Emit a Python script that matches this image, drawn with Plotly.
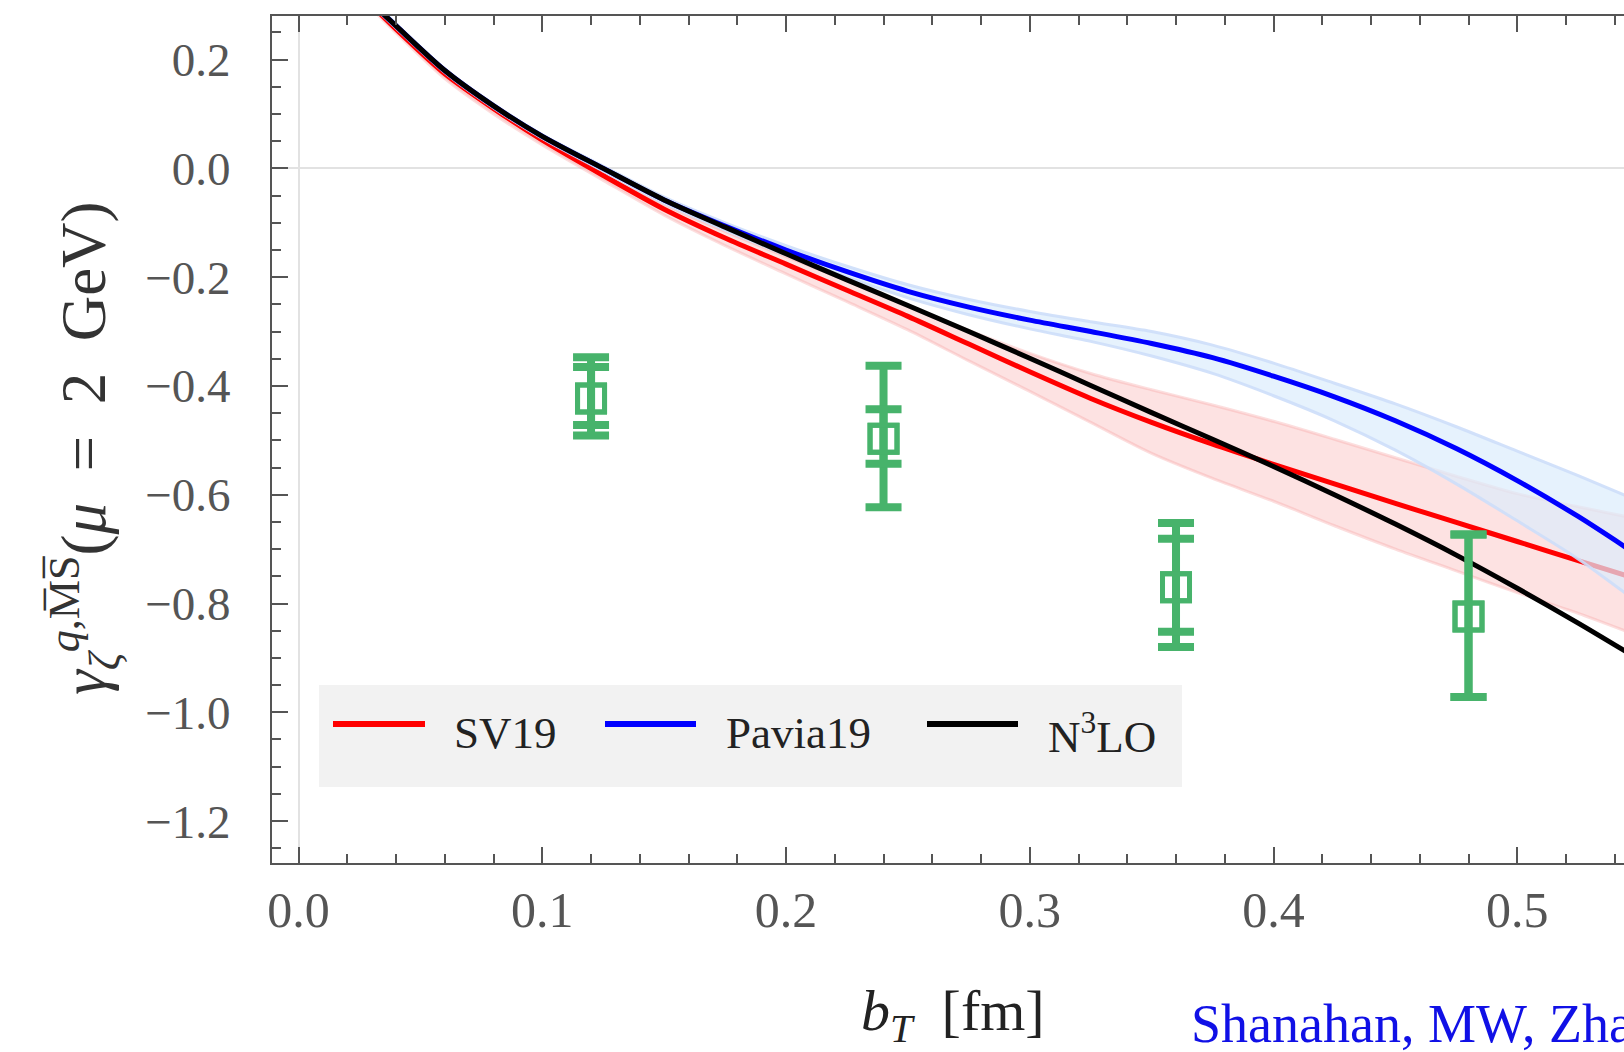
import plotly.graph_objects as go

# ---------------- data ----------------
b_fm = [0.03, 0.04, 0.06, 0.08, 0.10, 0.125, 0.15, 0.175, 0.20, 0.225, 0.25, 0.275,
        0.30, 0.325, 0.35, 0.375, 0.40, 0.425, 0.45, 0.475, 0.50, 0.525, 0.55]

sv19 = [0.300, 0.256, 0.174, 0.110, 0.052, -0.013, -0.075, -0.128, -0.176, -0.224, -0.272, -0.323,
        -0.374, -0.423, -0.467, -0.507, -0.544, -0.580, -0.616, -0.651, -0.686, -0.721, -0.756]
sv19_hi = [0.304, 0.259, 0.177, 0.114, 0.057, -0.006, -0.066, -0.116, -0.162, -0.206, -0.252, -0.298,
           -0.340, -0.377, -0.407, -0.435, -0.465, -0.498, -0.532, -0.566, -0.598, -0.622, -0.645]
sv19_lo = [0.294, 0.249, 0.165, 0.100, 0.043, -0.022, -0.086, -0.142, -0.194, -0.245, -0.297, -0.354,
           -0.410, -0.467, -0.524, -0.570, -0.612, -0.657, -0.700, -0.740, -0.780, -0.818, -0.860]

pavia19 = [0.304, 0.262, 0.180, 0.115, 0.059, 0.000, -0.058, -0.106, -0.150, -0.190, -0.226, -0.255,
           -0.279, -0.300, -0.322, -0.348, -0.382, -0.420, -0.464, -0.515, -0.574, -0.640, -0.713]
pavia19_hi = [0.310, 0.266, 0.183, 0.118, 0.062, 0.004, -0.053, -0.100, -0.142, -0.180, -0.214, -0.241,
              -0.263, -0.282, -0.300, -0.325, -0.358, -0.395, -0.433, -0.475, -0.520, -0.565, -0.612]
pavia19_lo = [0.300, 0.258, 0.176, 0.111, 0.055, -0.005, -0.064, -0.113, -0.159, -0.200, -0.238, -0.269,
              -0.295, -0.318, -0.345, -0.377, -0.418, -0.464, -0.518, -0.580, -0.648, -0.718, -0.800]

n3lo = [0.304, 0.262, 0.180, 0.115, 0.059, 0.000, -0.058, -0.108, -0.157, -0.205, -0.252, -0.300,
        -0.349, -0.399, -0.449, -0.498, -0.548, -0.600, -0.654, -0.711, -0.772, -0.836, -0.903]

lat_b = [0.12, 0.24, 0.36, 0.48]
lat_val = [-0.423, -0.497, -0.770, -0.824]
lat_tot_plus = [0.076, 0.134, 0.118, 0.151]
lat_tot_minus = [0.068, 0.126, 0.110, 0.148]
lat_stat_plus = [0.058, 0.054, 0.089, 0.151]
lat_stat_minus = [0.049, 0.046, 0.082, 0.148]

series_names = ["SV19", "Pavia19", "N<sup>3</sup>LO"]
series_colors = ["#ff0000", "#0000ff", "#000000"]

x_ticks = [0.0, 0.1, 0.2, 0.3, 0.4, 0.5]
y_ticks = [0.2, 0.0, -0.2, -0.4, -0.6, -0.8, -1.0, -1.2]

# ---------------- figure ----------------
SERIF = "Liberation Serif"
GREEN = "#47b36b"
SPL = dict(shape="spline", smoothing=0.8)
fig = go.Figure()

# SV19 band + line
fig.add_trace(go.Scatter(x=b_fm, y=sv19_lo, mode="lines", line=dict(color="rgba(245,160,160,0.35)", width=3, **SPL),
                         hoverinfo="skip", showlegend=False))
fig.add_trace(go.Scatter(x=b_fm, y=sv19_hi, mode="lines", fill="tonexty", fillcolor="rgba(250,180,180,0.38)",
                         line=dict(color="rgba(245,160,160,0.35)", width=3, **SPL),
                         hoverinfo="skip", showlegend=False))
fig.add_trace(go.Scatter(x=b_fm, y=sv19, mode="lines", name="SV19",
                         line=dict(color=series_colors[0], width=5, **SPL), showlegend=False))

# Pavia19 band + line
fig.add_trace(go.Scatter(x=b_fm, y=pavia19_lo, mode="lines", line=dict(color="rgba(205,222,250,0.9)", width=3, **SPL),
                         hoverinfo="skip", showlegend=False))
fig.add_trace(go.Scatter(x=b_fm, y=pavia19_hi, mode="lines", fill="tonexty", fillcolor="rgba(220,236,252,0.7)",
                         line=dict(color="rgba(205,222,250,0.9)", width=3, **SPL),
                         hoverinfo="skip", showlegend=False))
fig.add_trace(go.Scatter(x=b_fm, y=pavia19, mode="lines", name="Pavia19",
                         line=dict(color=series_colors[1], width=5, **SPL), showlegend=False))

# N3LO
fig.add_trace(go.Scatter(x=b_fm, y=n3lo, mode="lines", name="N3LO",
                         line=dict(color=series_colors[2], width=5, **SPL), showlegend=False))

# Lattice data: total and statistical error bars
for plus, minus in [(lat_tot_plus, lat_tot_minus), (lat_stat_plus, lat_stat_minus)]:
    fig.add_trace(go.Scatter(x=lat_b, y=lat_val, mode="markers",
                             marker=dict(symbol="square-open", size=27, color=GREEN, line=dict(width=5, color=GREEN)),
                             error_y=dict(type="data", symmetric=False, array=plus, arrayminus=minus,
                                          color=GREEN, thickness=8, width=18),
                             showlegend=False))

# ---------------- layout ----------------
L, T, W, H = 272, 16, 1624, 1052
B = 189
pw, ph = W - L, H - T - B


def px2paper(px, py):
    return (px - L) / pw, (H - B - py) / ph


axis_common = dict(showline=True, linecolor="#555555", linewidth=2, ticks="inside", tickcolor="#555555",
                   tickwidth=2, ticklen=16, showgrid=False, zeroline=True, zerolinecolor="#e2e2e2",
                   zerolinewidth=2, tickformat=".1f")

fig.update_layout(
    width=W, height=H, autosize=False,
    margin=dict(l=L, r=0, t=T, b=B, pad=0),
    paper_bgcolor="white", plot_bgcolor="white",
    xaxis=dict(range=[-0.0109, 0.5438], tickmode="array", tickvals=x_ticks, mirror="ticks",
               minor=dict(dtick=0.02, tick0=0, ticks="inside", ticklen=9, tickwidth=2, tickcolor="#555555"),
               tickfont=dict(family=SERIF, size=50, color="#555555"),
               ticklabelstandoff=2, **axis_common),
    yaxis=dict(range=[-1.2771, 0.2802], tickmode="array", tickvals=y_ticks, mirror=False,
               minor=dict(dtick=0.05, tick0=0, ticks="inside", ticklen=9, tickwidth=2, tickcolor="#555555"),
               tickfont=dict(family=SERIF, size=47, color="#555555"),
               ticklabelstandoff=30, **axis_common),
    showlegend=False,
)

annotations = []
# axis titles
ax_x, ax_y = px2paper(84, 448)
annotations.append(dict(x=ax_x, y=ax_y, xref="paper", yref="paper", showarrow=False, textangle=-90,
                        text="<i>γ</i><sub><i>ζ</i></sub><sup><i>q</i>,M̅S̅</sup>(<i>μ</i>&nbsp; = &nbsp;2&nbsp; GeV)",
                        font=dict(family=SERIF, size=63, color="#333333"), xanchor="center", yanchor="middle"))
bx, by = px2paper(953, 1014)
annotations.append(dict(x=bx, y=by, xref="paper", yref="paper", showarrow=False,
                        text="<i>b</i><sub><i>T</i></sub>  [fm]",
                        font=dict(family=SERIF, size=58, color="#222222"), xanchor="center", yanchor="middle"))
cx, cy = px2paper(1189, 1024)
annotations.append(dict(x=cx, y=cy, xref="paper", yref="paper", showarrow=False,
                        text="Shanahan, MW, Zhao",
                        font=dict(family=SERIF, size=54, color="#1010e6"), xanchor="left", yanchor="middle"))

# manual legend
shapes = []
lx0, ly0 = px2paper(319, 787)
lx1, ly1 = px2paper(1182, 685)
shapes.append(dict(type="rect", xref="paper", yref="paper", x0=lx0, y0=ly0, x1=lx1, y1=ly1,
                   fillcolor="#f2f2f2", line=dict(width=0), layer="below"))
sample_px = [(333, 425), (605, 696), (927, 1018)]
text_px = [452, 724, 1046]
for name, col, (s0, s1), tx in zip(series_names, series_colors, sample_px, text_px):
    xa, ya = px2paper(s0, 724)
    xb, _ = px2paper(s1, 724)
    shapes.append(dict(type="line", xref="paper", yref="paper", x0=xa, x1=xb, y0=ya, y1=ya,
                       line=dict(color=col, width=6)))
    tx_p, ty_p = px2paper(tx, 733)
    annotations.append(dict(x=tx_p, y=ty_p, xref="paper", yref="paper", showarrow=False, text=name,
                            font=dict(family=SERIF, size=45, color="#222222"), xanchor="left", yanchor="middle"))

fig.update_layout(annotations=annotations, shapes=shapes)

fig.write_html("out.html")
